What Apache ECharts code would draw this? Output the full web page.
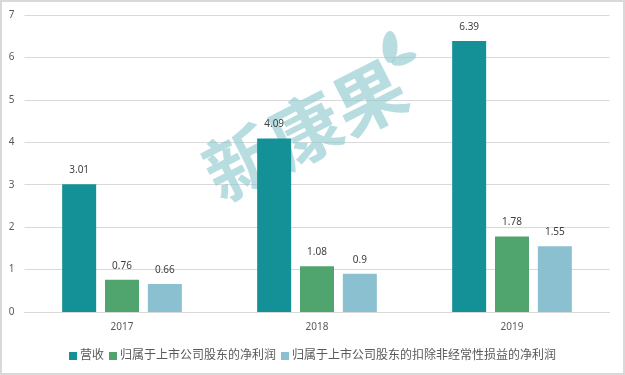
<!DOCTYPE html>
<html><head><meta charset="utf-8">
<style>html,body{margin:0;padding:0;background:#fff}#c{width:625px;height:375px}</style>
<script src="https://cdn.jsdelivr.net/npm/echarts@6/dist/echarts.min.js"></script>
</head><body><div id="c"></div>
<script>
const categories = ['2017','2018','2019'];
const revenue = [3.01,4.09,6.39];
const netProfit = [0.76,1.08,1.78];
const deductedProfit = [0.66,0.9,1.55];
const names = ['营收','归属于上市公司股东的净利润','归属于上市公司股东的扣除非经常性损益的净利润'];
const colors = ['#149196','#50a56e','#8ac0d0'];
const font = '"Noto Sans","Noto Sans CJK SC",sans-serif';
const mk = (i,d)=>({name:names[i],type:'bar',data:d,barWidth:34,barGap:'26%',
  itemStyle:{color:colors[i]},z:3,
  label:{show:true,position:'top',distance:9,fontSize:10,fontFamily:font,color:'#404040',z:5}});
const chart = echarts.init(document.getElementById('c'),null,{renderer:'canvas'});
chart.setOption({
  animation:false,
  grid:{left:24.5,right:15.5,top:15,bottom:63,containLabel:false},
  xAxis:{type:'category',data:categories,
    axisLine:{lineStyle:{color:'#d9d9d9',width:1}},axisTick:{show:false},
    axisLabel:{fontSize:10,fontFamily:font,color:'#595959',margin:10}},
  yAxis:{type:'value',min:0,max:7,interval:1,
    axisLine:{show:false},axisTick:{show:false},
    splitLine:{lineStyle:{color:'#d9d9d9',width:1}},
    axisLabel:{fontSize:10,fontFamily:font,color:'#595959',margin:10}},
  legend:{left:69,top:350,padding:0,itemWidth:8,itemHeight:8,itemGap:5,icon:'rect',
    textStyle:{fontSize:12,fontFamily:font,color:'#595959',padding:[0,0,0,-2]},data:names},
  graphic:[
    {type:'rect',z:0,silent:true,shape:{x:1,y:1,width:623,height:373},style:{fill:'none',stroke:'#d9d9d9',lineWidth:2}},
    {type:'text',z:1,silent:true,x:305,y:130,rotation:27*Math.PI/180,originX:0,originY:0,
      style:{text:'新康果',x:0,y:0,align:'center',verticalAlign:'middle',font:'bold 72px "Noto Sans CJK SC"',fill:'rgba(140,200,205,0.62)'}},
    {type:'ellipse',z:1,silent:true,shape:{cx:390,cy:47,rx:7.5,ry:16},style:{fill:'rgba(140,200,205,0.62)'}},
    {type:'ellipse',z:1,silent:true,x:404,y:59,rotation:20*Math.PI/180,shape:{cx:0,cy:0,rx:13,ry:5.5},style:{fill:'rgba(140,200,205,0.62)'}}
  ],
  series:[mk(0,revenue),mk(1,netProfit),mk(2,deductedProfit)]
});
</script></body></html>
